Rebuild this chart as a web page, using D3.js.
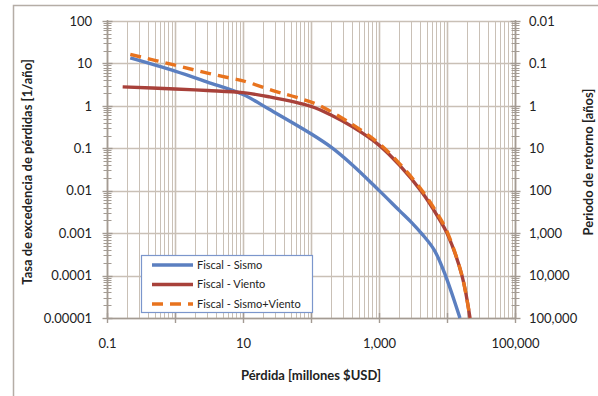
<!DOCTYPE html>
<html>
<head>
<meta charset="utf-8">
<script src="https://cdn.jsdelivr.net/npm/d3@7"></script>
<style>
	body { margin: 0; background: #fff; }
	svg { display: block; font-family: Lato, 'Open Sans', sans-serif; }
</style>
</head>
<body>
<svg id="chart" width="598" height="396"></svg>
<script>
	// perdida en millones USD vs tasa anual de excedencia
	const sismoLoss = [0.22, 1, 3, 10, 24, 100, 200, 410, 1000, 2000, 3000, 4300, 6500, 9500, 15500]
	const sismoRate = [13.5, 6.6, 3.64, 1.85, 0.84, 0.22, 0.105, 0.04, 0.0102, 0.0034, 0.0018, 0.00095, 0.0004, 0.0001, 0.00001]

	const vientoLoss = [0.17, 1, 3, 10, 24, 100, 200, 410, 1000, 2000, 4260, 7500, 10000, 16600, 21800]
	const vientoRate = [2.8, 2.5, 2.3, 2.05, 1.64, 0.97, 0.6, 0.32, 0.119, 0.04, 0.0093, 0.0023, 0.001, 0.0001, 0.00001]

	const totalLoss = [0.22, 1, 3, 7, 10, 30, 60, 130, 410, 1000, 2000, 4260, 7500, 10000, 16600, 21800]
	const totalRate = [16.3, 9.1, 5.9, 4.4, 3.9, 2.2, 1.6, 1.04, 0.36, 0.13, 0.0435, 0.0103, 0.0026, 0.0011, 0.0001, 0.00001]

	const seriesNames = ['Fiscal - Sismo', 'Fiscal - Viento', 'Fiscal - Sismo+Viento']

	const xTicks = [0.1, 10, 1000, 100000]
	const xTickLabels = ['0.1', '10', '1,000', '100,000']
	const yTicks = [100, 10, 1, 0.1, 0.01, 0.001, 0.0001, 0.00001]
	const yTickLabels = ['100', '10', '1', '0.1', '0.01', '0.001', '0.0001', '0.00001']
	const rTicks = [0.01, 0.1, 1, 10, 100, 1000, 10000, 100000]
	const rTickLabels = ['0.01', '0.1', '1', '10', '100', '1,000', '10,000', '100,000']

	const svg = d3.select('#chart')
	const pLeft = 107, pRight = 515, pTop = 21, pBottom = 318
	const gridColor = '#c9c0b6'
	const axisColor = '#a39b93'

	const x = d3.scaleLog().domain([0.1, 100000]).range([pLeft, pRight])
	const y = d3.scaleLog().domain([0.00001, 100]).range([pBottom, pTop])
	const yR = d3.scaleLog().domain([0.01, 100000]).range([pTop, pBottom])

	// marco exterior
	svg.append('rect')
		.attr('x', 13.5).attr('y', 5.5).attr('width', 620).attr('height', 420)
		.attr('fill', 'none').attr('stroke', '#b5ada6').attr('stroke-width', 1.5)

	const decades = d3.range(-1, 5).map(e => Math.pow(10, e))
	const minorX = decades.flatMap(d => d3.range(2, 10).map(k => k * d))
	const majorX = d3.range(-1, 6).map(e => Math.pow(10, e))
	const majorY = d3.range(-5, 3).map(e => Math.pow(10, e))
	const minorY = d3.range(-5, 2).flatMap(e => d3.range(2, 10).map(k => k * Math.pow(10, e)))
	const px = (v) => Math.round(v) + 0.5

	const gGrid = svg.append('g')
	gGrid.selectAll('line.minx')
		.data(minorX).enter().append('line')
		.attr('class', 'minx')
		.attr('x1', d => px(x(d))).attr('x2', d => px(x(d)))
		.attr('y1', pTop).attr('y2', pBottom)
		.attr('stroke', gridColor).attr('stroke-width', 1)
	gGrid.selectAll('line.majx')
		.data(majorX).enter().append('line')
		.attr('class', 'majx')
		.attr('x1', d => px(x(d))).attr('x2', d => px(x(d)))
		.attr('y1', pTop).attr('y2', pBottom)
		.attr('stroke', gridColor).attr('stroke-width', 1.6)
	gGrid.selectAll('line.majy')
		.data(majorY).enter().append('line')
		.attr('class', 'majy')
		.attr('x1', pLeft).attr('x2', pRight)
		.attr('y1', d => px(y(d))).attr('y2', d => px(y(d)))
		.attr('stroke', gridColor).attr('stroke-width', 1.6)

	// ejes con marcas cruzadas
	const gAxes = svg.append('g').attr('stroke', axisColor)
	gAxes.append('line').attr('x1', pLeft + 0.5).attr('x2', pLeft + 0.5).attr('y1', pTop - 1).attr('y2', pBottom + 1).attr('stroke-width', 1.6)
	gAxes.append('line').attr('x1', pRight + 0.5).attr('x2', pRight + 0.5).attr('y1', pTop - 1).attr('y2', pBottom + 1).attr('stroke-width', 1.6)
	gAxes.append('line').attr('x1', pLeft).attr('x2', pRight).attr('y1', pBottom + 0.5).attr('y2', pBottom + 0.5).attr('stroke-width', 1.6)

	const crossTicks = (xPos, values, len, w) => {
		gAxes.append('g').selectAll('line')
			.data(values).enter().append('line')
			.attr('x1', xPos - len).attr('x2', xPos + len)
			.attr('y1', d => px(y(d))).attr('y2', d => px(y(d)))
			.attr('stroke-width', w)
	}
	crossTicks(pLeft + 0.5, majorY, 5, 1.4)
	crossTicks(pLeft + 0.5, minorY, 4, 1)
	crossTicks(pRight + 0.5, majorY, 5, 1.4)
	crossTicks(pRight + 0.5, minorY, 4, 1)
	gAxes.append('g').selectAll('line')
		.data(majorX).enter().append('line')
		.attr('x1', d => px(x(d))).attr('x2', d => px(x(d)))
		.attr('y1', pBottom - 5).attr('y2', pBottom + 5)
		.attr('stroke-width', 1.4)

	const styleAxis = (g) => {
		g.select('.domain').remove()
		g.selectAll('.tick line').remove()
		g.selectAll('text').attr('font-size', 13).attr('fill', '#222').attr('font-family', 'Lato, sans-serif')
	}

	svg.append('g').attr('transform', `translate(${pLeft},0)`)
		.call(d3.axisLeft(y).tickValues(yTicks).tickFormat((d, i) => yTickLabels[i]).tickSize(0).tickPadding(15))
		.call(styleAxis)
	svg.append('g').attr('transform', `translate(${pRight},0)`)
		.call(d3.axisRight(yR).tickValues(rTicks).tickFormat((d, i) => rTickLabels[i]).tickSize(0).tickPadding(14))
		.call(styleAxis)
	svg.append('g').attr('transform', `translate(0,${pBottom})`)
		.call(d3.axisBottom(x).tickValues(xTicks).tickFormat((d, i) => xTickLabels[i]).tickSize(0).tickPadding(21))
		.call(styleAxis)

	// titulos
	const title = (text, tx, ty, rot) => svg.append('text')
		.attr('transform', `translate(${tx},${ty}) rotate(${rot})`)
		.attr('text-anchor', 'middle')
		.attr('font-size', 13).attr('font-weight', 'bold').attr('fill', '#222')
		.text(text)
	title('Pérdida [millones $USD]', (pLeft + pRight) / 2, 380, 0)
	title('Tasa de excedencia de pérdidas [1/año]', 32, 172, -90)
	title('Periodo de retorno [años]', 593, 162, -90)

	// curvas
	const series = [
		{ loss: sismoLoss, rate: sismoRate, color: '#5b7fc0', dash: null },
		{ loss: vientoLoss, rate: vientoRate, color: '#a8413a', dash: null },
		{ loss: totalLoss, rate: totalRate, color: '#e8731e', dash: '11,7' },
	]
	const line = d3.line().x(d => x(d[0])).y(d => y(d[1])).curve(d3.curveCatmullRom.alpha(0.5))
	svg.append('g').selectAll('path')
		.data(series).enter().append('path')
		.attr('d', s => line(d3.zip(s.loss, s.rate)))
		.attr('fill', 'none')
		.attr('stroke', s => s.color)
		.attr('stroke-width', 3.4)
		.attr('stroke-dasharray', s => s.dash)

	// leyenda
	const gLegend = svg.append('g')
	gLegend.append('rect')
		.attr('x', 141.5).attr('y', 255.5).attr('width', 171).attr('height', 57)
		.attr('fill', '#fff').attr('stroke', '#7b96cc').attr('stroke-width', 1.2)
	const items = gLegend.selectAll('g.item')
		.data(series).enter().append('g')
		.attr('class', 'item')
		.attr('transform', (_, i) => `translate(0,${265 + i * 19.5})`)
	items.append('line')
		.attr('x1', 152).attr('x2', 193)
		.attr('stroke', s => s.color).attr('stroke-width', 3.4)
		.attr('stroke-dasharray', s => s.dash)
	items.append('text')
		.attr('x', 197).attr('dy', '0.36em')
		.attr('font-size', 11).attr('fill', '#222')
		.text((_, i) => seriesNames[i])
</script>
</body>
</html>
